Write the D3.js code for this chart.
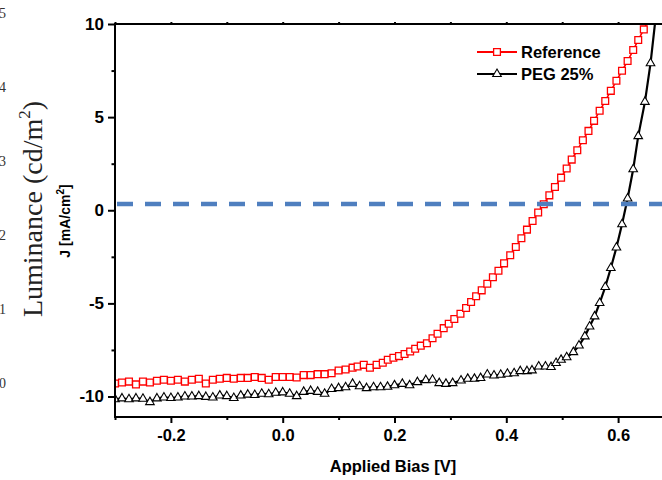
<!DOCTYPE html>
<html><head><meta charset="utf-8">
<script src="https://cdn.jsdelivr.net/npm/d3@7"></script>
<style>html,body{margin:0;padding:0;background:#fff;overflow:hidden}</style>
</head><body>
<svg id="c" width="662" height="480"></svg>
<script>
// ---- data ----
const refV = [-0.3,-0.2875,-0.275,-0.2625,-0.25,-0.2375,-0.225,-0.2125,-0.2,-0.1875,-0.175,-0.1625,-0.15,-0.1375,-0.125,-0.1125,-0.1,-0.0875,-0.075,-0.0625,-0.05,-0.0375,-0.025,-0.0125,0,0.0125,0.025,0.0375,0.05,0.0625,0.075,0.0875,0.1,0.1125,0.125,
 0.134,0.145,0.156,0.168,0.179,0.188,0.198,0.208,0.218,0.228,0.237,0.247,0.258,0.268,0.277,0.288,0.297,0.307,0.318,0.328,0.337,0.346,0.356,0.366,0.376,0.386,0.396,0.407,0.417,0.427,0.437,0.447,0.457,0.467,0.477,0.487,0.498,0.508,0.517,0.527,0.537,0.547,0.557,0.567,0.577,0.587,0.597,0.607,0.617,0.627,0.636,0.646,0.656];
const refJ = [-9.3,-9.25,-9.2,-9.35,-9.2,-9.25,-9.15,-9.1,-9.15,-9.1,-9.2,-9.1,-9.05,-9.3,-9.1,-9.05,-9.0,-9.05,-9.0,-9.0,-8.95,-9.0,-9.1,-8.95,-8.95,-8.95,-8.98,-8.85,-8.85,-8.8,-8.8,-8.75,-8.6,-8.55,-8.45,
 -8.39,-8.30,-8.46,-8.3,-8.19,-8.03,-7.92,-7.83,-7.72,-7.58,-7.44,-7.27,-7.14,-6.87,-6.63,-6.33,-6.09,-5.84,-5.56,-5.25,-4.93,-4.62,-4.3,-3.95,-3.6,-3.25,-2.85,-2.42,-1.97,-1.5,-1.04,-0.58,-0.12,0.32,0.8,1.25,1.75,2.24,2.72,3.22,3.76,4.26,4.8,5.34,5.87,6.41,6.95,7.49,8.01,8.6,9.14,9.71,10.3];
const pegV = [-0.3,-0.2875,-0.275,-0.2625,-0.25,-0.2375,-0.225,-0.2125,-0.2,-0.1875,-0.175,-0.1625,-0.15,-0.1375,-0.125,-0.1125,-0.1,-0.0875,-0.075,-0.0625,-0.05,-0.0375,-0.025,-0.0125,0,0.0125,0.025,0.0375,0.05,0.0625,0.075,0.0875,0.1,0.1125,0.125,0.1375,0.15,0.1625,0.175,0.1875,0.2,
 0.214,0.227,0.241,0.256,0.268,0.28,0.292,0.304,0.319,0.331,0.343,0.354,0.366,0.378,0.39,0.402,0.414,0.425,0.437,0.446,0.458,0.47,0.48,0.489,0.498,0.508,0.52,0.53,0.5405,0.549,0.558,0.567,0.577,0.587,0.597,0.607,0.617,0.627,0.636,0.648,0.658,0.667];
const pegJ = [-10.15,-10.1,-10.15,-10.1,-10.12,-10.3,-10.1,-10.05,-10.08,-10.05,-10.0,-10.0,-9.98,-10.02,-10.05,-9.95,-9.98,-10.08,-9.95,-9.9,-9.92,-9.85,-9.88,-9.8,-9.78,-9.85,-9.98,-9.75,-9.7,-9.75,-9.85,-9.6,-9.55,-9.5,-9.32,-9.45,-9.55,-9.5,-9.5,-9.48,-9.4,
 -9.32,-9.4,-9.23,-9.12,-9.1,-9.28,-9.32,-9.28,-9.14,-9.05,-9.05,-9.01,-8.82,-8.87,-8.83,-8.78,-8.75,-8.64,-8.64,-8.6,-8.39,-8.39,-8.42,-8.2,-8.03,-7.89,-7.62,-7.26,-6.77,-6.24,-5.7,-4.98,-4.12,-3.1,-2.0,-0.75,0.63,2.2,3.98,5.82,7.89,10.3];
const seriesNames = ["Reference","PEG 25%"];
const xTickVals = [-0.2,0.0,0.2,0.4,0.6];
const xTickLabels = ["-0.2","0.0","0.2","0.4","0.6"];
const xMinorVals = [-0.3,-0.1,0.1,0.3,0.5,0.7];
const yTickVals = [-10,-5,0,5,10];
const yTickLabels = ["-10","-5","0","5","10"];
const yMinorVals = [-7.5,-2.5,2.5,7.5];
const refLineJ = 0.34;
const lumTicks = ["5","4","3","2","1","0"];

// ---- layout ----
const svg = d3.select("#c");
const x = d3.scaleLinear().domain([-0.3,0.7]).range([115,674]);
const y = d3.scaleLinear().domain([-11.1,10]).range([417,24]);
const FONT = "'Liberation Sans', Arial, sans-serif";

svg.append("clipPath").attr("id","pc").append("rect")
  .attr("x",115).attr("y",24).attr("width",559).attr("height",393);
const plot = svg.append("g").attr("clip-path","url(#pc)");

const line = d3.line().x(d=>x(d[0])).y(d=>y(d[1]));
const refData = refV.map((v,i)=>[v,refJ[i]]);
const pegData = pegV.map((v,i)=>[v,pegJ[i]]);

plot.append("path").datum(refData).attr("d",line)
  .attr("fill","none").attr("stroke","#ff0000").attr("stroke-width",1.6);
plot.append("g").selectAll("path").data(refData).join("path")
  .attr("transform",d=>`translate(${x(d[0])},${y(d[1])})`)
  .attr("d",d3.symbol(d3.symbolSquare,46)())
  .attr("fill","#fff").attr("stroke","#ff0000").attr("stroke-width",1.3);

plot.append("path").datum(pegData).attr("d",line)
  .attr("fill","none").attr("stroke","#000").attr("stroke-width",2.2);
plot.append("g").selectAll("path").data(pegData).join("path")
  .attr("transform",d=>`translate(${x(d[0])},${y(d[1])})`)
  .attr("d",d3.symbol(d3.symbolTriangle,32)())
  .attr("fill","#fff").attr("stroke","#000").attr("stroke-width",1.1);

plot.append("line").attr("x1",117).attr("x2",674)
  .attr("y1",y(refLineJ)).attr("y2",y(refLineJ))
  .attr("stroke","#4f7fbf").attr("stroke-width",4.5).attr("stroke-dasharray","16,12");

// axes
const ax = svg.append("g").attr("stroke","#000").attr("fill","none");
ax.append("rect").attr("x",115).attr("y",24).attr("width",559).attr("height",393).attr("stroke-width",2);

const xAxis = d3.axisBottom(x).tickValues(xTickVals).tickFormat((d,i)=>xTickLabels[i]).tickSize(6).tickPadding(6);
const gx = svg.append("g").attr("transform","translate(0,417)").call(xAxis);
gx.select(".domain").remove();
gx.selectAll("line").attr("stroke-width",2);
gx.selectAll("text").attr("font-family",FONT).attr("font-weight","bold").attr("font-size",16.5).attr("fill","#000");
svg.append("g").attr("transform","translate(0,417)")
  .call(d3.axisBottom(x).tickValues(xMinorVals).tickFormat("").tickSize(3))
  .call(g=>{g.select(".domain").remove(); g.selectAll("line").attr("stroke-width",2);});
svg.append("g").attr("transform","translate(0,24)")
  .call(d3.axisTop(x).tickValues(xTickVals.concat(xMinorVals)).tickFormat("").tickSize(2))
  .call(g=>{g.select(".domain").remove(); g.selectAll("line").attr("stroke-width",2);});

const yAxis = d3.axisLeft(y).tickValues(yTickVals).tickFormat((d,i)=>yTickLabels[i]).tickSize(7).tickPadding(4);
const gy = svg.append("g").attr("transform","translate(115,0)").call(yAxis);
gy.select(".domain").remove();
gy.selectAll("line").attr("stroke-width",2);
gy.selectAll("text").attr("font-family",FONT).attr("font-weight","bold").attr("font-size",17).attr("fill","#000");
svg.append("g").attr("transform","translate(115,0)")
  .call(d3.axisLeft(y).tickValues(yMinorVals).tickFormat("").tickSize(3.5))
  .call(g=>{g.select(".domain").remove(); g.selectAll("line").attr("stroke-width",2);});

// axis titles
svg.append("text").attr("x",393).attr("y",472).attr("text-anchor","middle")
  .attr("font-family",FONT).attr("font-weight","bold").attr("font-size",16.5).text("Applied Bias [V]");
const jt = svg.append("text").attr("transform","translate(70,221) rotate(-90)").attr("text-anchor","middle")
  .attr("font-family",FONT).attr("font-weight","bold").attr("font-size",14);
jt.append("tspan").text("J [mA/cm");
jt.append("tspan").attr("dy",-6).attr("font-size",10).text("2");
jt.append("tspan").attr("dy",6).text("]");

const lt = svg.append("text").attr("transform","translate(42,209) rotate(-90)").attr("text-anchor","middle")
  .attr("font-family","'Liberation Serif','Times New Roman',serif").attr("font-size",28).attr("fill","#222");
lt.append("tspan").text("Luminance (cd/m");
lt.append("tspan").attr("dy",-12).attr("font-size",17).text("2");
lt.append("tspan").attr("dy",12).text(")");

svg.append("g").selectAll("text").data(lumTicks).join("text")
  .attr("x",6).attr("y",(d,i)=>18+i*74).attr("text-anchor","end")
  .attr("font-family","'Liberation Serif',serif").attr("font-size",14).attr("fill","#333").text(d=>d);

// legend
const lg = svg.append("g");
const rows = [{c:"#ff0000",sym:d3.symbolSquare,s:46,sw:1.3,y:52},{c:"#000",sym:d3.symbolTriangle,s:32,sw:1.1,y:74}];
rows.forEach((r,i)=>{
  lg.append("line").attr("x1",477).attr("x2",517).attr("y1",r.y).attr("y2",r.y).attr("stroke",r.c).attr("stroke-width",2);
  lg.append("path").attr("transform",`translate(497,${r.y})`).attr("d",d3.symbol(r.sym,r.s)())
    .attr("fill","#fff").attr("stroke",r.c).attr("stroke-width",r.sw);
  lg.append("text").attr("x",521).attr("y",r.y+6).attr("font-family",FONT).attr("font-weight","bold")
    .attr("font-size",16.5).text(seriesNames[i]);
});
</script>
</body></html>
